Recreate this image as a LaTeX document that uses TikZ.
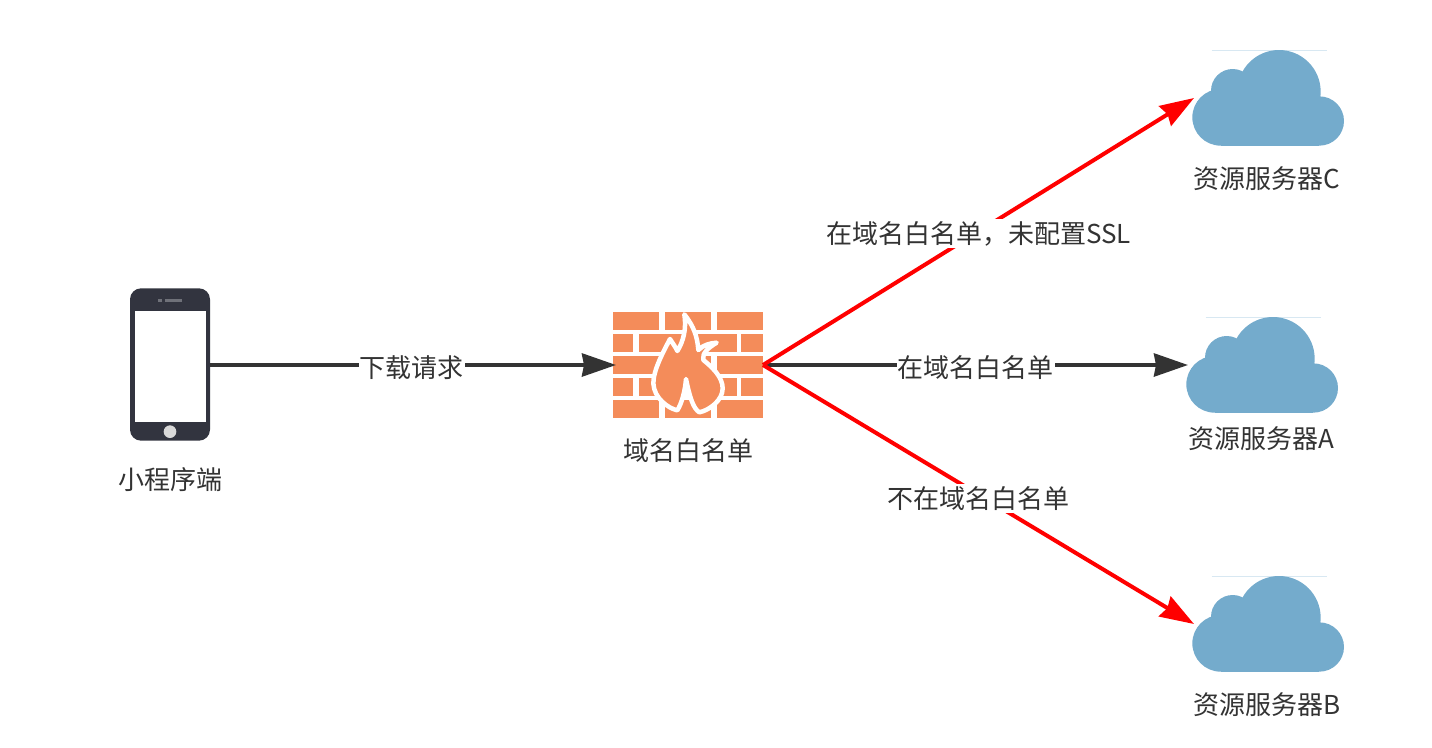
\documentclass[tikz,border=0pt]{standalone}
\usepackage{fontspec}
\setmainfont{Noto Sans CJK SC}
\usetikzlibrary{arrows.meta}
\definecolor{ink}{HTML}{333333}
\definecolor{wallc}{HTML}{F48C5A}
\definecolor{phonec}{HTML}{32343F}
\definecolor{cloudc}{HTML}{74ABCC}
\definecolor{cloudl}{HTML}{D8E8F2}
\tikzset{
  box/.style={minimum width=#1,inner sep=0pt,outer sep=0pt},
  txt/.style={text=ink,font=\fontsize{26}{30}\selectfont,inner sep=0pt},
  lbl/.style={txt,fill=white,inner sep=1pt,inner ysep=2pt},
  blackline/.style={draw=ink,line width=4pt,-{Stealth[length=34pt,width=23pt,inset=2pt]}},
  redline/.style={draw=red,line width=4pt,-{Stealth[length=34pt,width=23pt,inset=3pt]}},
  art/.style={x=0.33333pt,y=-0.33333pt},
}
\newcommand{\cloudart}[2]{%
  \begin{scope}[shift={(#1,#2)},art]
    \draw[cloudl,line width=1pt] (215,61) -- (560,61);
    \fill[cloudc] (242,262) circle[radius=85];
    \fill[cloudc] (278,182) circle[radius=65];
    \fill[cloudc] (417,185) circle[radius=125];
    \fill[cloudc] (538,273) circle[radius=74];
    \fill[cloudc] (242,200) rectangle (538,347);
  \end{scope}}
\begin{document}
\begin{tikzpicture}[x=1pt,y=-1pt]
\useasboundingbox (0,0) rectangle (1432,747);
% phone
\node[box=80pt,minimum height=152pt] (phone) at (170,365) {};
\begin{scope}[shift={(100,270)},art]
  \fill[phonec,rounded corners=11pt] (90,55) rectangle (330,512);
  \fill[white] (105,122) rectangle (317,457);
  \fill[phonec!70] (175,87) rectangle (186,97);
  \fill[phonec!70] (195,88) rectangle (247,97);
  \fill[gray!30] (210,485) circle[radius=19];
\end{scope}
% firewall
\node[box=150pt,minimum height=106pt] (wall) at (688,365) {};
\begin{scope}[shift={(590,295)},art]
  \foreach \ya/\yb in {50/104,182/236,316/368}{
    \fill[wallc] (69,\ya) rectangle (207,\yb);
    \fill[wallc] (225,\ya) rectangle (363,\yb);
    \fill[wallc] (381,\ya) rectangle (519,\yb);
  }
  \foreach \ya/\yb in {118/170,248/302}{
    \fill[wallc] (69,\ya) rectangle (129,\yb);
    \fill[wallc] (147,\ya) rectangle (285,\yb);
    \fill[wallc] (303,\ya) rectangle (441,\yb);
    \fill[wallc] (453,\ya) rectangle (519,\yb);
  }
  \filldraw[fill=wallc,draw=white,line width=4.5pt,line join=round]
    (283,58) .. controls (312,95) and (322,125) .. (325,165)
    .. controls (340,150) and (358,145) .. (380,143)
    .. controls (355,158) and (335,175) .. (340,195)
    .. controls (365,215) and (398,245) .. (398,280)
    .. controls (398,315) and (360,345) .. (328,352)
    .. controls (310,340) and (300,310) .. (288,252)
    .. controls (285,290) and (275,325) .. (262,346)
    .. controls (235,340) and (192,310) .. (190,265)
    .. controls (190,225) and (220,170) .. (240,132)
    .. controls (248,145) and (256,155) .. (262,168)
    .. controls (280,140) and (290,100) .. (283,58) -- cycle;
\end{scope}
% clouds
\node[box=152pt,minimum height=96pt] (cloudc1) at (1268,98) {};
\node[box=152pt,minimum height=96pt] (clouda) at (1262,365) {};
\node[box=152pt,minimum height=96pt] (cloudb) at (1268,624) {};
\cloudart{1140}{30}
\cloudart{1134}{297}
\cloudart{1140}{556}
% connectors
\draw[blackline] (phone.east) -- ([xshift=3pt]wall.west) node[lbl,pos=0.5,yshift=-3pt,xshift=-1.5pt] (l1) {下载请求};
\draw[blackline] (wall.east) -- ([xshift=2pt]clouda.west) node[lbl,pos=0.5,yshift=-3pt] (l2) {在域名白名单};
\draw[redline] (wall.east) -- ([xshift=2pt]cloudc1.west) node[lbl,pos=0.5,yshift=-2pt] (l3) {在域名白名单，未配置SSL};
\draw[redline] (wall.east) -- ([xshift=2pt]cloudb.west) node[lbl,pos=0.5,yshift=-4pt] (l4) {不在域名白名单};
% captions
\node[txt] (t1) at (170,480) {小程序端};
\node[txt] (t2) at (688,451) {域名白名单};
\node[txt] (t3) at (1267,179) {资源服务器C};
\node[txt] (t4) at (1261,439) {资源服务器A};
\node[txt] (t5) at (1267,705) {资源服务器B};
\end{tikzpicture}
\end{document}
